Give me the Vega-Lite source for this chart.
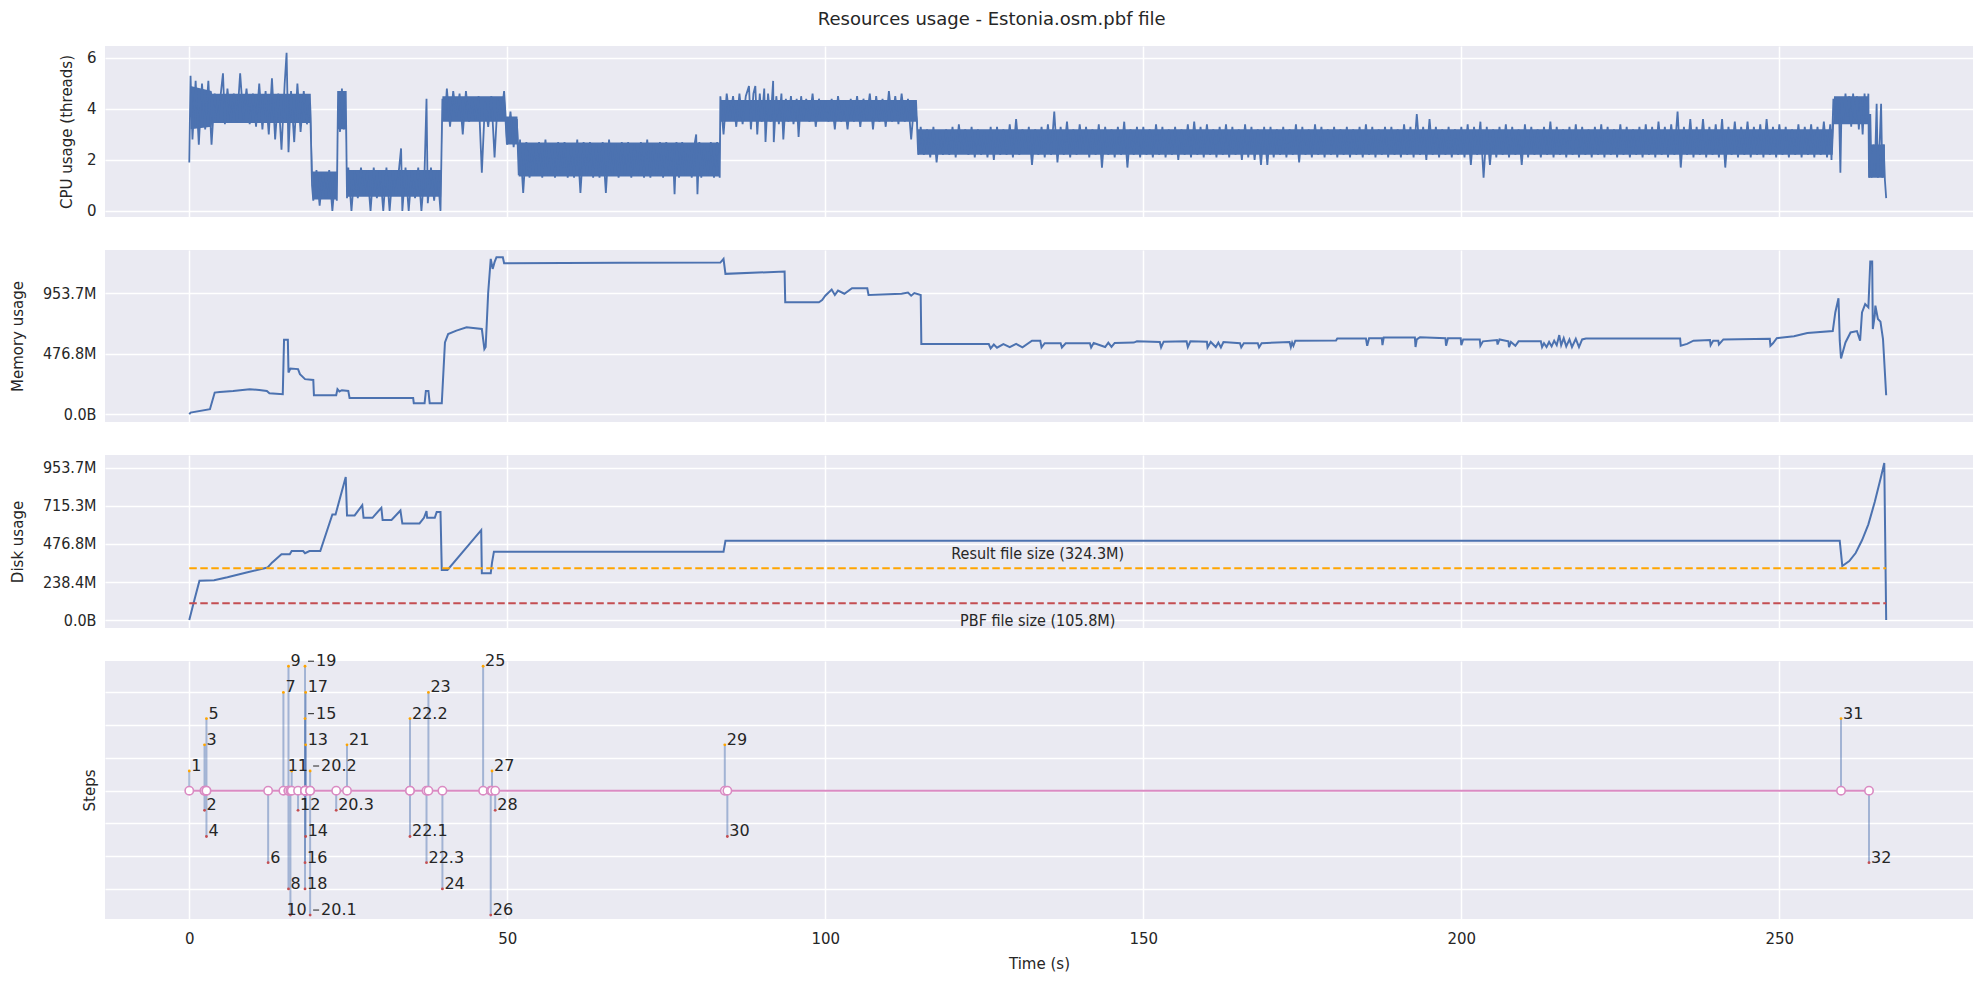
{
  "$schema": "https://vega.github.io/schema/vega-lite/v6.json",
  "padding": {"left": 10, "top": 11, "right": 11, "bottom": 8},
  "background": "white",
  "title": {"text": "Resources usage - Estonia.osm.pbf file", "fontSize": 18, "fontWeight": "normal", "font": "DejaVu Sans", "color": "#262626", "anchor": "middle", "offset": 17},
  "bounds": "flush",
  "spacing": 33,
  "config": {
    "view": {"fill": "#EAEAF2", "stroke": null},
    "axis": {"gridColor": "#FFFFFF", "gridWidth": 1.5, "gridOpacity": 1, "domain": false, "ticks": false, "labelColor": "#262626", "titleColor": "#262626", "labelFont": "DejaVu Sans", "titleFont": "DejaVu Sans", "labelFontSize": 15, "titleFontSize": 15, "titleFontWeight": "normal", "labelPadding": 9, "titlePadding": 10}
  },
  "datasets": {
    "cpuband": [
      {"t":0.2,"lo":3.2,"hi":4.9},{"t":3.5,"lo":3.3,"hi":4.7},{"t":3.6,"lo":3.45,"hi":4.6},{"t":19.1,"lo":3.45,"hi":4.6},{"t":19.4,"lo":0.45,"hi":1.55},{"t":23.2,"lo":0.45,"hi":1.55},{"t":23.4,"lo":3.2,"hi":4.7},{"t":24.6,"lo":3.2,"hi":4.7},{"t":24.8,"lo":0.55,"hi":1.6},{"t":39.6,"lo":0.55,"hi":1.6},{"t":39.8,"lo":3.5,"hi":4.5},{"t":49.6,"lo":3.5,"hi":4.5},{"t":49.8,"lo":2.6,"hi":3.7},{"t":51.6,"lo":2.6,"hi":3.7},{"t":51.8,"lo":1.35,"hi":2.68},{"t":83.4,"lo":1.35,"hi":2.68},{"t":83.6,"lo":3.5,"hi":4.35},{"t":114.4,"lo":3.5,"hi":4.35},{"t":114.6,"lo":2.2,"hi":3.2},{"t":258.4,"lo":2.2,"hi":3.2},{"t":258.6,"lo":3.4,"hi":4.5},{"t":264,"lo":3.4,"hi":4.5},{"t":264.1,"lo":1.3,"hi":2.6},{"t":266.6,"lo":1.3,"hi":2.6}
    ],
    "cpu": [
      {"t":0,"c":1.9},{"t":0.2,"c":5.3},{"t":0.5,"c":2.8},{"t":1,"c":5.1},{"t":1.5,"c":2.6},{"t":2,"c":5},{"t":2.5,"c":3.2},{"t":3,"c":5.1},{"t":3.5,"c":2.6},{"t":4,"c":4.6},{"t":4.5,"c":3.5},{"t":5,"c":4.7},{"t":5.3,"c":5.4},{"t":5.6,"c":3.4},{"t":6,"c":4.8},{"t":6.5,"c":3.5},{"t":7,"c":4.6},{"t":7.5,"c":3.5},{"t":8,"c":5.4},{"t":8.5,"c":3.6},{"t":9,"c":4.8},{"t":9.5,"c":3.4},{"t":10,"c":4.6},{"t":10.5,"c":3.3},{"t":11,"c":5},{"t":11.5,"c":3.2},{"t":12,"c":4.7},{"t":12.5,"c":3},{"t":13,"c":5.2},{"t":13.5,"c":2.8},{"t":14,"c":4.6},{"t":14.5,"c":2.4},{"t":15,"c":5},{"t":15.3,"c":6.2},{"t":15.6,"c":2.3},{"t":16,"c":4.7},{"t":16.5,"c":2.7},{"t":17,"c":5},{"t":17.5,"c":3.1},{"t":18,"c":4.7},{"t":18.5,"c":3.4},{"t":19,"c":4.2},{"t":19.3,"c":1},
      {"t":19.5,"c":0.4},{"t":20,"c":1.6},{"t":20.5,"c":0.2},{"t":21,"c":1.5},{"t":21.5,"c":0.5},{"t":22,"c":1.6},{"t":22.5,"c":0},{"t":23,"c":1.5},{"t":23.2,"c":0.4},{"t":23.4,"c":4.7},{"t":23.7,"c":3.1},{"t":24,"c":4.8},{"t":24.3,"c":3.2},{"t":24.6,"c":4.7},{"t":24.8,"c":0.5},{"t":25,"c":1.7},{"t":25.5,"c":0},{"t":26,"c":1.6},{"t":26.5,"c":0.5},{"t":27,"c":1.7},{"t":27.5,"c":0.6},{"t":28,"c":1.6},{"t":28.5,"c":0},{"t":29,"c":1.7},{"t":29.5,"c":0.5},{"t":30,"c":1.6},{"t":30.5,"c":0},{"t":31,"c":1.7},{"t":31.5,"c":0},{"t":32,"c":1.6},{"t":32.5,"c":0.6},{"t":33,"c":1.7},{"t":33.3,"c":2.45},{"t":33.5,"c":0},{"t":34,"c":1.7},{"t":34.5,"c":0},{"t":35,"c":1.6},{"t":35.5,"c":0.5},{"t":36,"c":1.7},{"t":36.5,"c":0},{"t":37,"c":1.6},{"t":37.3,"c":4.4},{"t":37.5,"c":0.3},{"t":38,"c":1.7},{"t":38.5,"c":0.4},{"t":39,"c":1.6},{"t":39.5,"c":0},
      {"t":39.8,"c":4.4},{"t":40.2,"c":3.6},{"t":40.5,"c":4.8},{"t":41,"c":3.3},{"t":41.5,"c":4.7},{"t":42,"c":3.7},{"t":42.5,"c":4.6},{"t":43,"c":3},{"t":43.5,"c":4.7},{"t":44,"c":3.5},{"t":44.5,"c":4.4},{"t":45,"c":3.6},{"t":45.5,"c":4.5},{"t":46,"c":1.5},{"t":46.5,"c":4.3},{"t":47,"c":3.3},{"t":47.5,"c":4.5},{"t":48,"c":2.1},{"t":48.5,"c":4.4},{"t":49,"c":3.6},{"t":49.5,"c":4.7},{"t":50,"c":2.6},{"t":50.5,"c":3.9},{"t":51,"c":2.5},{"t":51.5,"c":3.6},{"t":51.8,"c":1.4},
      {"t":52,"c":2.8},{"t":52.5,"c":0.7},{"t":53,"c":2.7},{"t":53.5,"c":1.3},{"t":54,"c":2.6},{"t":54.5,"c":1.4},{"t":55,"c":2.7},{"t":55.5,"c":1.3},{"t":56,"c":2.8},{"t":56.5,"c":1.4},{"t":57,"c":2.6},{"t":57.5,"c":1.3},{"t":58,"c":2.7},{"t":58.5,"c":1.4},{"t":59,"c":2.7},{"t":59.5,"c":1.3},{"t":60,"c":2.6},{"t":60.5,"c":1.3},{"t":61,"c":2.8},{"t":61.5,"c":0.7},{"t":62,"c":2.7},{"t":62.5,"c":1.4},{"t":63,"c":2.7},{"t":63.5,"c":1.3},{"t":64,"c":2.6},{"t":64.5,"c":1.3},{"t":65,"c":2.7},{"t":65.5,"c":0.7},{"t":66,"c":2.8},{"t":66.5,"c":1.4},{"t":67,"c":2.6},{"t":67.5,"c":1.3},{"t":68,"c":2.7},{"t":68.5,"c":1.4},{"t":69,"c":2.7},{"t":69.5,"c":1.3},{"t":70,"c":2.6},{"t":70.5,"c":1.4},{"t":71,"c":2.7},{"t":71.5,"c":1.3},{"t":72,"c":2.8},{"t":72.5,"c":1.3},{"t":73,"c":2.6},{"t":73.5,"c":1.4},{"t":74,"c":2.7},{"t":74.5,"c":1.3},{"t":75,"c":2.7},{"t":75.5,"c":1.4},{"t":76,"c":2.6},{"t":76.3,"c":0.65},{"t":76.6,"c":2.7},{"t":77,"c":1.3},{"t":77.5,"c":2.7},{"t":78,"c":1.4},{"t":78.5,"c":2.6},{"t":79,"c":1.3},{"t":79.5,"c":2.7},{"t":79.7,"c":3},{"t":79.9,"c":0.65},{"t":80.2,"c":2.7},{"t":80.5,"c":1.3},{"t":81,"c":2.6},{"t":81.5,"c":1.4},{"t":82,"c":2.7},{"t":82.5,"c":1.3},{"t":83,"c":2.7},{"t":83.4,"c":1.3},
      {"t":83.5,"c":4.5},{"t":84,"c":3},{"t":84.5,"c":4.6},{"t":85,"c":3.6},{"t":85.5,"c":4.5},{"t":86,"c":3.3},{"t":86.5,"c":4.6},{"t":87,"c":3.4},{"t":87.5,"c":4.5},{"t":88,"c":4.9},{"t":88.3,"c":3.2},{"t":88.7,"c":4.6},{"t":89,"c":4.9},{"t":89.3,"c":3},{"t":89.7,"c":4.6},{"t":90,"c":3.5},{"t":90.4,"c":4.8},{"t":90.6,"c":2.7},{"t":91,"c":4.6},{"t":91.4,"c":3.5},{"t":91.8,"c":5.1},{"t":91.9,"c":2.7},{"t":92.3,"c":4.5},{"t":92.7,"c":3.4},{"t":93.1,"c":4.6},{"t":93.4,"c":2.8},{"t":93.8,"c":4.4},{"t":94.2,"c":3.5},{"t":94.6,"c":4.5},{"t":95,"c":3.4},{"t":95.5,"c":4.4},{"t":95.8,"c":2.9},{"t":96.2,"c":4.5},{"t":96.6,"c":3.6},{"t":97,"c":4.4},{"t":97.5,"c":3.5},{"t":98,"c":4.6},{"t":98.5,"c":3.3},{"t":99,"c":4.4},{"t":99.5,"c":3.6},{"t":100,"c":4.3},{"t":100.5,"c":3.5},{"t":101,"c":4.4},{"t":101.5,"c":3.2},{"t":102,"c":4.5},{"t":102.5,"c":3.5},{"t":103,"c":4.3},{"t":103.5,"c":3.2},{"t":104,"c":4.4},{"t":104.5,"c":3.5},{"t":105,"c":4.5},{"t":105.5,"c":3.3},{"t":106,"c":4.4},{"t":106.5,"c":3.6},{"t":107,"c":4.6},{"t":107.5,"c":3.2},{"t":108,"c":4.5},{"t":108.5,"c":3.5},{"t":109,"c":4.4},{"t":109.5,"c":3.3},{"t":110,"c":4.7},{"t":110.5,"c":3.5},{"t":111,"c":4.5},{"t":111.5,"c":3.4},{"t":112,"c":4.6},{"t":112.5,"c":3.5},{"t":113,"c":4.4},{"t":113.5,"c":2.8},{"t":114,"c":4.3},{"t":114.4,"c":3.5},{"t":114.6,"c":2.2},
      {"t":115,"c":3.3},{"t":115.5,"c":2.2},{"t":116,"c":3.2},{"t":116.5,"c":2.1},{"t":117,"c":3.3},{"t":117.5,"c":1.9},{"t":118,"c":3.1},{"t":118.5,"c":2.2},{"t":119,"c":3.2},{"t":119.5,"c":2.2},{"t":120,"c":3.3},{"t":120.5,"c":2.1},{"t":121,"c":3.4},{"t":121.5,"c":2.3},{"t":122,"c":3.2},{"t":122.5,"c":2.2},{"t":123,"c":3.3},{"t":123.5,"c":2.1},{"t":124,"c":3.2},{"t":124.5,"c":2.2},{"t":125,"c":3.1},{"t":125.5,"c":2.1},{"t":126,"c":3.3},{"t":126.5,"c":2},{"t":127,"c":3.3},{"t":127.5,"c":2.2},{"t":128,"c":3.2},{"t":128.5,"c":2.2},{"t":129,"c":3.4},{"t":129.5,"c":2.1},{"t":130,"c":3.6},{"t":130.5,"c":2.2},{"t":131,"c":3.2},{"t":131.5,"c":2.3},{"t":132,"c":3.3},{"t":132.5,"c":1.8},{"t":133,"c":3.2},{"t":133.5,"c":2.2},{"t":134,"c":3.3},{"t":134.5,"c":2.1},{"t":135,"c":3.4},{"t":135.5,"c":2.2},{"t":136,"c":3.9},{"t":136.5,"c":1.9},{"t":137,"c":3.3},{"t":137.5,"c":2.2},{"t":138,"c":3.5},{"t":138.5,"c":2.1},{"t":139,"c":3.2},{"t":139.5,"c":2.2},{"t":140,"c":3.4},{"t":140.5,"c":2.3},{"t":141,"c":3.3},{"t":141.5,"c":2.1},{"t":142,"c":3.2},{"t":142.5,"c":2.2},{"t":143,"c":3.4},{"t":143.5,"c":1.7},{"t":144,"c":3.3},{"t":144.5,"c":2.2},{"t":145,"c":3.2},{"t":145.5,"c":2.1},{"t":146,"c":3.3},{"t":146.5,"c":2.2},{"t":147,"c":3.5},{"t":147.5,"c":1.7},{"t":148,"c":3.2},{"t":148.5,"c":2.2},{"t":149,"c":3.3},{"t":149.5,"c":2.1},
      {"t":150,"c":3.3},{"t":150.5,"c":2.2},{"t":151,"c":3.2},{"t":151.5,"c":2.1},{"t":152,"c":3.4},{"t":152.5,"c":2.2},{"t":153,"c":3.3},{"t":153.5,"c":2.1},{"t":154,"c":3.2},{"t":154.5,"c":2.2},{"t":155,"c":3.3},{"t":155.5,"c":2},{"t":156,"c":3.2},{"t":156.5,"c":2.2},{"t":157,"c":3.4},{"t":157.5,"c":2.1},{"t":158,"c":3.5},{"t":158.5,"c":2.2},{"t":159,"c":3.3},{"t":159.5,"c":2.1},{"t":160,"c":3.4},{"t":160.5,"c":2.2},{"t":161,"c":3.2},{"t":161.5,"c":2.1},{"t":162,"c":3.3},{"t":162.5,"c":2.2},{"t":163,"c":3.4},{"t":163.5,"c":2.1},{"t":164,"c":3.3},{"t":164.5,"c":2.2},{"t":165,"c":3.2},{"t":165.5,"c":2},{"t":166,"c":3.4},{"t":166.5,"c":2.1},{"t":167,"c":3.3},{"t":167.5,"c":2},{"t":168,"c":3.2},{"t":168.5,"c":1.8},{"t":169,"c":3.3},{"t":169.5,"c":1.8},{"t":170,"c":3.3},{"t":170.5,"c":2.1},{"t":171,"c":3.2},{"t":171.5,"c":2.2},{"t":172,"c":3.3},{"t":172.5,"c":2.1},{"t":173,"c":3.2},{"t":173.5,"c":2.2},{"t":174,"c":3.4},{"t":174.5,"c":1.9},{"t":175,"c":3.3},{"t":175.5,"c":2.2},{"t":176,"c":3.2},{"t":176.5,"c":2.1},{"t":177,"c":3.4},{"t":177.5,"c":2.2},{"t":178,"c":3.3},{"t":178.5,"c":2.1},{"t":179,"c":3.2},{"t":179.5,"c":2.2},{"t":180,"c":3.3},{"t":180.5,"c":2.1},{"t":181,"c":3.2},{"t":181.5,"c":2.2},{"t":182,"c":3.3},{"t":182.5,"c":2.1},{"t":183,"c":3.2},{"t":183.5,"c":2.2},{"t":184,"c":3.3},{"t":184.5,"c":2.1},{"t":185,"c":3.4},{"t":185.5,"c":2.2},{"t":186,"c":3.3},{"t":186.5,"c":2.1},{"t":187,"c":3.2},{"t":187.5,"c":2.2},{"t":188,"c":3.3},{"t":188.5,"c":2.1},{"t":189,"c":3.3},{"t":189.5,"c":2.2},{"t":190,"c":3.2},{"t":190.5,"c":2.1},{"t":191,"c":3.4},{"t":191.5,"c":2.2},{"t":192,"c":3.3},{"t":192.5,"c":2.1},{"t":193,"c":3.8},{"t":193.5,"c":2.2},{"t":194,"c":3.3},{"t":194.5,"c":2},{"t":195,"c":3.6},{"t":195.5,"c":2.2},{"t":196,"c":3.3},{"t":196.5,"c":2.1},{"t":197,"c":3.2},{"t":197.5,"c":2.2},{"t":198,"c":3.3},{"t":198.5,"c":2.1},{"t":199,"c":3.2},{"t":199.5,"c":2.2},
      {"t":200,"c":3.3},{"t":200.5,"c":2.1},{"t":201,"c":3.4},{"t":201.5,"c":1.8},{"t":202,"c":3.3},{"t":202.5,"c":2.2},{"t":203,"c":3.5},{"t":203.5,"c":1.3},{"t":204,"c":3.3},{"t":204.5,"c":1.8},{"t":205,"c":3.2},{"t":205.5,"c":2.1},{"t":206,"c":3.3},{"t":206.5,"c":2.2},{"t":207,"c":3.4},{"t":207.5,"c":2.1},{"t":208,"c":3.3},{"t":208.5,"c":2.2},{"t":209,"c":3.2},{"t":209.5,"c":1.8},{"t":210,"c":3.4},{"t":210.5,"c":2.1},{"t":211,"c":3.3},{"t":211.5,"c":2.2},{"t":212,"c":3.2},{"t":212.5,"c":2.1},{"t":213,"c":3.3},{"t":213.5,"c":2.2},{"t":214,"c":3.5},{"t":214.5,"c":2.1},{"t":215,"c":3.3},{"t":215.5,"c":2.2},{"t":216,"c":3.2},{"t":216.5,"c":2.1},{"t":217,"c":3.3},{"t":217.5,"c":2.2},{"t":218,"c":3.4},{"t":218.5,"c":2.1},{"t":219,"c":3.3},{"t":219.5,"c":2.2},{"t":220,"c":3.2},{"t":220.5,"c":2.1},{"t":221,"c":3.3},{"t":221.5,"c":2.2},{"t":222,"c":3.4},{"t":222.5,"c":2.1},{"t":223,"c":3.3},{"t":223.5,"c":2.2},{"t":224,"c":3.2},{"t":224.5,"c":2.1},{"t":225,"c":3.4},{"t":225.5,"c":2.2},{"t":226,"c":3.3},{"t":226.5,"c":2.1},{"t":227,"c":3.2},{"t":227.5,"c":2.2},{"t":228,"c":3.3},{"t":228.5,"c":2.1},{"t":229,"c":3.4},{"t":229.5,"c":2.2},{"t":230,"c":3.3},{"t":230.5,"c":2.1},{"t":231,"c":3.5},{"t":231.5,"c":2.2},{"t":232,"c":3.3},{"t":232.5,"c":2.1},{"t":233,"c":3.4},{"t":233.5,"c":2.2},{"t":234,"c":3.9},{"t":234.5,"c":1.7},{"t":235,"c":3.3},{"t":235.5,"c":2.2},{"t":236,"c":3.6},{"t":236.5,"c":2.1},{"t":237,"c":3.3},{"t":237.5,"c":2.2},{"t":238,"c":3.6},{"t":238.5,"c":2.1},{"t":239,"c":3.3},{"t":239.5,"c":2.2},{"t":240,"c":3.4},{"t":240.5,"c":2.1},{"t":241,"c":3.6},{"t":241.5,"c":1.7},{"t":242,"c":3.3},{"t":242.5,"c":2.2},{"t":243,"c":3.5},{"t":243.5,"c":2.1},{"t":244,"c":3.3},{"t":244.5,"c":2.2},{"t":245,"c":3.5},{"t":245.5,"c":2.1},{"t":246,"c":3.3},{"t":246.5,"c":2.2},{"t":247,"c":3.4},{"t":247.5,"c":2.1},{"t":248,"c":3.6},{"t":248.5,"c":2.2},{"t":249,"c":3.3},{"t":249.5,"c":2.1},{"t":250,"c":3.4},{"t":250.5,"c":2.2},{"t":251,"c":3.3},{"t":251.5,"c":2.1},{"t":252,"c":3.2},{"t":252.5,"c":2.2},{"t":253,"c":3.4},{"t":253.5,"c":2.1},{"t":254,"c":3.3},{"t":254.5,"c":2.2},{"t":255,"c":3.4},{"t":255.5,"c":2.1},{"t":256,"c":3.3},{"t":256.5,"c":2.2},{"t":257,"c":3.5},{"t":257.5,"c":2.1},{"t":258,"c":3.4},{"t":258.2,"c":2},
      {"t":258.5,"c":4.4},{"t":258.8,"c":3.5},{"t":259.1,"c":4.2},{"t":259.4,"c":3.8},{"t":259.6,"c":1.5},{"t":259.8,"c":4.4},{"t":260.1,"c":3.6},{"t":260.4,"c":4.6},{"t":260.7,"c":3.7},{"t":261,"c":4.5},{"t":261.3,"c":3.3},{"t":261.6,"c":4.6},{"t":261.9,"c":3.6},{"t":262.2,"c":4.5},{"t":262.5,"c":3.2},{"t":262.8,"c":4.4},{"t":263.1,"c":3},{"t":263.4,"c":4.6},{"t":263.7,"c":3.5},{"t":264,"c":4.6},
      {"t":264.1,"c":1.3},{"t":264.3,"c":3.8},{"t":264.5,"c":1.3},{"t":264.8,"c":2.6},{"t":265,"c":1.4},{"t":265.3,"c":4.2},{"t":265.5,"c":1.3},{"t":265.8,"c":2.8},{"t":266,"c":4.2},{"t":266.2,"c":1.3},{"t":266.4,"c":2.6},{"t":266.6,"c":1.2},{"t":266.8,"c":0.5}
    ],
    "mem": [
      {"t":0,"m":0},{"t":0.2,"m":13},{"t":3.25,"m":40},{"t":4,"m":171},{"t":4.8,"m":175},{"t":6.9,"m":184},{"t":8,"m":190},{"t":9.5,"m":198},{"t":11,"m":192},{"t":12.2,"m":184},{"t":12.6,"m":166},{"t":14.7,"m":158},{"t":14.9,"m":587},{"t":15.5,"m":587},{"t":15.6,"m":329},{"t":15.9,"m":361},{"t":17.1,"m":356},{"t":17.4,"m":316},{"t":18.2,"m":277},{"t":19.5,"m":271},{"t":19.6,"m":150},{"t":23.1,"m":150},{"t":23.3,"m":198},{"t":23.6,"m":180},{"t":24,"m":190},{"t":25,"m":184},{"t":25.2,"m":129},{"t":35.2,"m":129},{"t":35.3,"m":87},{"t":37,"m":87},{"t":37.2,"m":184},{"t":37.6,"m":184},{"t":37.8,"m":87},{"t":39.7,"m":87},{"t":40.2,"m":566},{"t":40.7,"m":632},{"t":42,"m":659},{"t":43.6,"m":685},{"t":46,"m":672},{"t":46.4,"m":514},{"t":46.6,"m":530},{"t":47,"m":962},{"t":47.4,"m":1225},{"t":47.7,"m":1146},{"t":48,"m":1199},{"t":48.3,"m":1238},{"t":49.3,"m":1238},{"t":49.5,"m":1191},{"t":67.7,"m":1194},{"t":83.5,"m":1196},{"t":84,"m":1225},{"t":84.3,"m":1107},{"t":93.6,"m":1125},{"t":93.7,"m":883},{"t":99,"m":883},{"t":99.5,"m":900},{"t":100,"m":935},{"t":101,"m":983},{"t":101.5,"m":940},{"t":102,"m":975},{"t":103,"m":950},{"t":104.2,"m":993},{"t":106.6,"m":993},{"t":106.8,"m":940},{"t":112,"m":950},{"t":113,"m":960},{"t":113.5,"m":935},{"t":114,"m":956},{"t":115,"m":940},{"t":115.1,"m":553},{"t":125.7,"m":553},{"t":126,"m":519},{"t":126.5,"m":550},{"t":127,"m":525},{"t":128,"m":553},{"t":129,"m":530},{"t":130,"m":555},{"t":131,"m":527},{"t":132.5,"m":580},{"t":133.8,"m":580},{"t":134,"m":527},{"t":134.5,"m":560},{"t":137,"m":560},{"t":137.2,"m":527},{"t":137.8,"m":560},{"t":141.6,"m":560},{"t":141.8,"m":527},{"t":142.2,"m":562},{"t":144,"m":530},{"t":144.5,"m":565},{"t":145,"m":532},{"t":145.5,"m":562},{"t":148.5,"m":565},{"t":149,"m":575},
      {"t":152.6,"m":570},{"t":152.8,"m":527},{"t":153.2,"m":572},{"t":156.8,"m":575},{"t":157,"m":530},{"t":157.4,"m":575},{"t":160,"m":572},{"t":160.1,"m":527},{"t":160.6,"m":570},{"t":161.4,"m":530},{"t":161.8,"m":565},{"t":162.2,"m":527},{"t":162.6,"m":570},{"t":165.2,"m":560},{"t":165.4,"m":527},{"t":165.8,"m":560},{"t":168,"m":560},{"t":168.2,"m":527},{"t":168.6,"m":560},{"t":173,"m":570},{"t":173.2,"m":530},{"t":173.4,"m":565},{"t":173.6,"m":540},{"t":173.9,"m":580},{"t":180.3,"m":582},{"t":180.5,"m":598},{"t":185,"m":598},{"t":185.2,"m":540},{"t":185.5,"m":600},{"t":187.5,"m":600},{"t":187.6,"m":545},{"t":187.8,"m":605},{"t":192.7,"m":605},{"t":192.8,"m":530},{"t":193,"m":590},{"t":193.5,"m":608},{"t":197.5,"m":600},{"t":197.6,"m":540},{"t":197.9,"m":600},{"t":199.9,"m":600},{"t":200,"m":545},{"t":200.3,"m":590},{"t":202.9,"m":590},{"t":203,"m":540},{"t":203.4,"m":575},{"t":205.6,"m":585},{"t":205.7,"m":550},{"t":206,"m":590},{"t":207.4,"m":575},{"t":207.5,"m":530},{"t":207.8,"m":570},{"t":208.5,"m":540},{"t":209,"m":575},{"t":212.5,"m":575},{"t":212.7,"m":530},{"t":213,"m":560},{"t":213.4,"m":530},{"t":213.8,"m":570},{"t":214.2,"m":535},{"t":214.6,"m":580},{"t":215,"m":545},{"t":215.4,"m":624},{"t":215.7,"m":545},{"t":216.1,"m":600},{"t":216.5,"m":535},{"t":217,"m":590},{"t":217.4,"m":530},{"t":218,"m":595},{"t":218.5,"m":530},{"t":219,"m":590},{"t":219.6,"m":598},{"t":234.4,"m":598},{"t":234.5,"m":540},{"t":235.5,"m":555},{"t":236.5,"m":580},{"t":239.1,"m":585},{"t":239.2,"m":545},{"t":239.6,"m":580},{"t":240.4,"m":580},{"t":240.5,"m":550},{"t":241.2,"m":590},{"t":248.5,"m":595},{"t":248.6,"m":540},{"t":249,"m":560},{"t":249.6,"m":600},{"t":252.3,"m":615},{"t":254.4,"m":640},{"t":258.4,"m":656},{"t":258.8,"m":803},{"t":259.3,"m":914},{"t":259.5,"m":580},{"t":259.7,"m":440},{"t":260.4,"m":566},{"t":261.2,"m":645},{"t":262.2,"m":656},{"t":262.7,"m":580},{"t":263,"m":803},{"t":263.5,"m":869},{"t":264,"m":843},{"t":264.3,"m":1204},{"t":264.6,"m":1204},{"t":264.7,"m":672},{"t":265,"m":777},{"t":265.1,"m":856},{"t":265.5,"m":751},{"t":265.9,"m":730},{"t":266.3,"m":593},{"t":266.8,"m":150}
    ],
    "disk": [
      {"t":0,"d":0},{"t":0.7,"d":110},{"t":1.6,"d":246},{"t":3.9,"d":250},{"t":6,"d":268},{"t":9,"d":298},{"t":12.3,"d":329},{"t":13,"d":360},{"t":14.5,"d":412},{"t":15.8,"d":412},{"t":16.1,"d":433},{"t":17.9,"d":433},{"t":18.2,"d":419},{"t":18.9,"d":433},{"t":20.6,"d":433},{"t":22.5,"d":662},{"t":23,"d":662},{"t":24.6,"d":897},{"t":24.8,"d":656},{"t":26,"d":656},{"t":27.2,"d":720},{"t":27.4,"d":641},{"t":28.8,"d":641},{"t":30.2,"d":704},{"t":30.4,"d":627},{"t":31.8,"d":627},{"t":33.2,"d":687},{"t":33.5,"d":606},{"t":36.2,"d":606},{"t":36.9,"d":641},{"t":37.3,"d":683},{"t":37.4,"d":641},{"t":38.6,"d":641},{"t":38.9,"d":677},{"t":39.5,"d":677},{"t":39.7,"d":314},{"t":40.6,"d":314},{"t":45.9,"d":564},{"t":46,"d":294},{"t":47.4,"d":294},{"t":47.6,"d":360},{"t":47.9,"d":429},{"t":84,"d":429},{"t":84.3,"d":497},{"t":259.5,"d":497},{"t":259.9,"d":339},{"t":261,"d":370},{"t":262,"d":420},{"t":263,"d":500},{"t":264,"d":600},{"t":265,"d":740},{"t":266,"d":900},{"t":266.5,"d":985},{"t":266.8,"d":0}
    ],
    "files": [
      {"name":"Result","size":324.3,"label":"Result file size (324.3M)","start":0,"end":266.8},
      {"name":"PBF","size":105.8,"label":"PBF file size (105.8M)","start":0,"end":266.8}
    ],
    "steps": [
      {"step":"1","t":0,"level":0.15},{"step":"2","t":2.4,"level":-0.15},{"step":"3","t":2.4,"level":0.35},{"step":"4","t":2.7,"level":-0.35},{"step":"5","t":2.7,"level":0.55},{"step":"6","t":12.4,"level":-0.55},{"step":"7","t":14.8,"level":0.75},{"step":"8","t":15.6,"level":-0.75},{"step":"9","t":15.6,"level":0.95},{"step":"10","t":15.9,"level":-0.95},{"step":"11","t":16.1,"level":0.15},{"step":"12","t":17.1,"level":-0.15},{"step":"13","t":18.3,"level":0.35},{"step":"14","t":18.3,"level":-0.35},{"step":"15","t":18.2,"level":0.55},{"step":"16","t":18.2,"level":-0.55},{"step":"17","t":18.3,"level":0.75},{"step":"18","t":18.2,"level":-0.75},{"step":"19","t":18.2,"level":0.95},{"step":"20.1","t":19,"level":-0.95},{"step":"20.2","t":19,"level":0.15},{"step":"20.3","t":23.1,"level":-0.15},{"step":"21","t":24.8,"level":0.35},{"step":"22.1","t":34.7,"level":-0.35},{"step":"22.2","t":34.7,"level":0.55},{"step":"22.3","t":37.3,"level":-0.55},{"step":"23","t":37.6,"level":0.75},{"step":"24","t":39.8,"level":-0.75},{"step":"25","t":46.2,"level":0.95},{"step":"26","t":47.4,"level":-0.95},{"step":"27","t":47.6,"level":0.15},{"step":"28","t":48.1,"level":-0.15},{"step":"29","t":84.2,"level":0.35},{"step":"30","t":84.6,"level":-0.35},{"step":"31","t":259.7,"level":0.55},{"step":"32","t":264.1,"level":-0.55}
    ]
  },
  "vconcat": [
    {
      "width": 1868, "height": 171,
      "encoding": {
        "x": {"field": "t", "type": "quantitative", "scale": {"domain": [-13.25, 280.45], "nice": false, "zero": false}, "axis": {"values": [0,50,100,150,200,250], "labels": false, "title": null}}
      },
      "layer": [
        {
          "data": {"name": "cpuband"},
          "mark": {"type": "area", "color": "#4C72B0", "opacity": 1},
          "encoding": {
            "y": {"field": "lo", "type": "quantitative", "scale": {"domain": [-0.24, 6.47], "nice": false, "zero": false}, "axis": {"values": [0,2,4,6], "title": "CPU usage (threads)", "titlePadding": 12}},
            "y2": {"field": "hi"}
          }
        },
        {
          "data": {"name": "cpu"},
          "mark": {"type": "line", "color": "#4C72B0", "strokeWidth": 1.8},
          "encoding": {
            "y": {"field": "c", "type": "quantitative"}
          }
        }
      ]
    },
    {
      "width": 1868, "height": 172,
      "data": {"name": "mem"},
      "mark": {"type": "line", "color": "#4C72B0", "strokeWidth": 2},
      "encoding": {
        "x": {"field": "t", "type": "quantitative", "scale": {"domain": [-13.25, 280.45], "nice": false, "zero": false}, "axis": {"values": [0,50,100,150,200,250], "labels": false, "title": null}},
        "y": {"field": "m", "type": "quantitative", "scale": {"domain": [-61, 1295], "nice": false, "zero": false}, "axis": {"values": [0, 476.837, 953.674], "labelExpr": "datum.value == 0 ? '0.0B' : format(datum.value, '.1f') + 'M'", "labelFont": "DejaVu Sans Condensed, Liberation Sans Narrow, DejaVu Sans", "labelFontSize": 16, "title": "Memory usage", "titlePadding": 17}}
      }
    },
    {
      "width": 1868, "height": 173,
      "layer": [
        {
          "data": {"name": "disk"},
          "mark": {"type": "line", "color": "#4C72B0", "strokeWidth": 2},
          "encoding": {
            "x": {"field": "t", "type": "quantitative", "scale": {"domain": [-13.25, 280.45], "nice": false, "zero": false}, "axis": {"values": [0,50,100,150,200,250], "labels": false, "title": null}},
            "y": {"field": "d", "type": "quantitative", "scale": {"domain": [-50, 1035], "nice": false, "zero": false}, "axis": {"values": [0, 238.4186, 476.837, 715.256, 953.674], "labelExpr": "datum.value == 0 ? '0.0B' : format(datum.value, '.1f') + 'M'", "labelFont": "DejaVu Sans Condensed, Liberation Sans Narrow, DejaVu Sans", "labelFontSize": 16, "title": "Disk usage", "titlePadding": 17}}
          }
        },
        {
          "data": {"name": "files"},
          "mark": {"type": "rule", "strokeDash": [7.5, 3.5], "strokeWidth": 2},
          "encoding": {
            "x": {"field": "start", "type": "quantitative"},
            "x2": {"field": "end"},
            "y": {"field": "size", "type": "quantitative"},
            "color": {"field": "name", "type": "nominal", "scale": {"domain": ["Result", "PBF"], "range": ["#FFA500", "#C44E52"]}, "legend": null}
          }
        },
        {
          "data": {"name": "files"},
          "transform": [{"filter": "datum.name == 'Result'"}],
          "mark": {"type": "text", "baseline": "bottom", "align": "center", "dy": -6, "font": "DejaVu Sans Condensed, Liberation Sans Narrow, DejaVu Sans", "fontSize": 16, "color": "#262626"},
          "encoding": {
            "x": {"datum": 133.4, "type": "quantitative"},
            "y": {"field": "size", "type": "quantitative"},
            "text": {"field": "label"}
          }
        },
        {
          "data": {"name": "files"},
          "transform": [{"filter": "datum.name == 'PBF'"}],
          "mark": {"type": "text", "baseline": "top", "align": "center", "dy": 10, "font": "DejaVu Sans Condensed, Liberation Sans Narrow, DejaVu Sans", "fontSize": 16, "color": "#262626"},
          "encoding": {
            "x": {"datum": 133.4, "type": "quantitative"},
            "y": {"field": "size", "type": "quantitative"},
            "text": {"field": "label"}
          }
        }
      ]
    },
    {
      "width": 1868, "height": 258,
      "data": {"name": "steps"},
      "encoding": {
        "x": {"field": "t", "type": "quantitative", "scale": {"domain": [-13.25, 280.45], "nice": false, "zero": false}, "axis": {"values": [0,50,100,150,200,250], "title": "Time (s)", "labelPadding": 12}}
      },
      "layer": [
        {
          "mark": {"type": "rule", "color": "#4C72B0", "opacity": 0.45, "strokeWidth": 2},
          "encoding": {
            "y": {"field": "level", "type": "quantitative", "scale": {"domain": [-0.98, 0.99], "nice": false, "zero": false}, "axis": {"values": [-0.75,-0.5,-0.25,0,0.25,0.5,0.75], "labels": false, "title": "Steps", "titlePadding": 8}},
            "y2": {"datum": 0}
          }
        },
        {
          "mark": {"type": "line", "color": "#DA8BC3", "strokeWidth": 2},
          "encoding": {"y": {"datum": 0, "type": "quantitative"}}
        },
        {
          "mark": {"type": "point", "shape": "circle", "filled": true, "fill": "white", "stroke": "#DA8BC3", "strokeWidth": 1.6, "size": 70, "opacity": 1},
          "encoding": {"y": {"datum": 0, "type": "quantitative"}}
        },
        {
          "mark": {"type": "point", "shape": "circle", "filled": true, "size": 8, "opacity": 1},
          "encoding": {
            "y": {"field": "level", "type": "quantitative"},
            "color": {"field": "step", "type": "nominal", "legend": null, "scale": {"domain": ["1","2","3","4","5","6","7","8","9","10","11","12","13","14","15","16","17","18","19","20.1","20.2","20.3","21","22.1","22.2","22.3","23","24","25","26","27","28","29","30","31","32"], "range": ["#4C72B0","#DD8452","#55A868","#C44E52","#8172B3","#937860","#DA8BC3","#8C8C8C","#CCB974","#64B5CD","#4C72B0","#DD8452","#55A868","#C44E52","#8172B3","#937860","#DA8BC3","#8C8C8C","#CCB974","#64B5CD","#4C72B0","#DD8452","#55A868","#C44E52","#8172B3","#937860","#DA8BC3","#8C8C8C","#CCB974","#64B5CD","#4C72B0","#DD8452","#55A868","#C44E52","#8172B3","#937860"]}}
          }
        },
        {
          "transform": [{"filter": "indexof(['15','19','20.1','20.2'], datum.step) >= 0"}],
          "mark": {"type": "rule", "color": "#444444", "strokeWidth": 1.2, "xOffset": 3, "x2Offset": 9, "yOffset": -5, "y2Offset": -5},
          "encoding": {
            "y": {"field": "level", "type": "quantitative"},
            "x2": {"field": "t"}
          }
        },
        {
          "transform": [{"filter": "indexof(['15','19','20.1','20.2','10','11'], datum.step) < 0"}],
          "mark": {"type": "text", "align": "left", "baseline": "alphabetic", "dx": 2, "font": "DejaVu Sans", "fontSize": 16, "color": "#262626"},
          "encoding": {
            "y": {"field": "level", "type": "quantitative"},
            "text": {"field": "step"}
          }
        },
        {
          "transform": [{"filter": "indexof(['10','11'], datum.step) >= 0"}],
          "mark": {"type": "text", "align": "left", "baseline": "alphabetic", "dx": -4, "font": "DejaVu Sans", "fontSize": 16, "color": "#262626"},
          "encoding": {
            "y": {"field": "level", "type": "quantitative"},
            "text": {"field": "step"}
          }
        },
        {
          "transform": [{"filter": "indexof(['15','19','20.1','20.2'], datum.step) >= 0"}],
          "mark": {"type": "text", "align": "left", "baseline": "alphabetic", "dx": 11, "font": "DejaVu Sans", "fontSize": 16, "color": "#262626"},
          "encoding": {
            "y": {"field": "level", "type": "quantitative"},
            "text": {"field": "step"}
          }
        }
      ]
    }
  ]
}
